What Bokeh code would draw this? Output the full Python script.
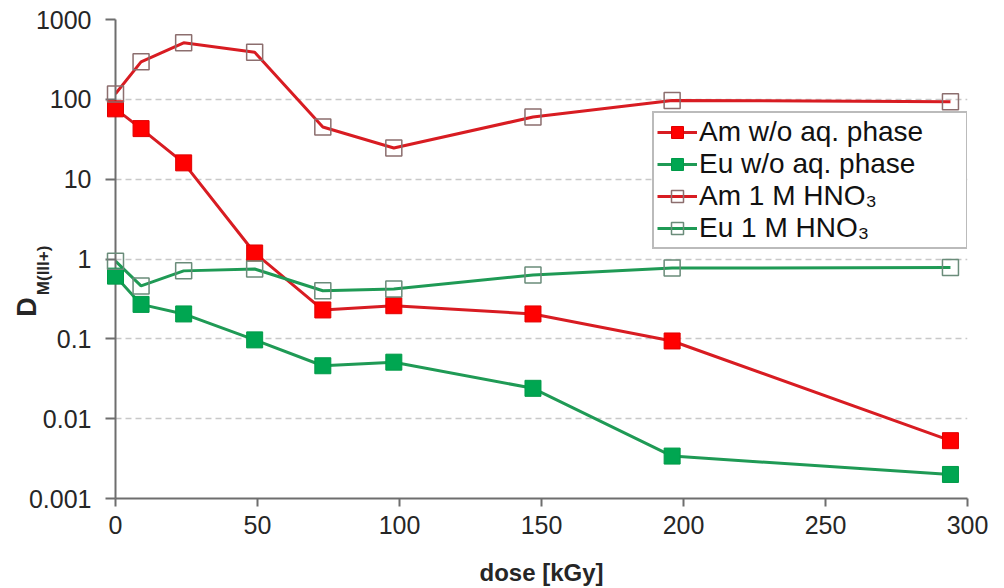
import math
from bokeh.plotting import figure
from bokeh.models import FixedTicker, Legend, LegendItem, Range1d
from bokeh.core.properties import value
from bokeh.embed import file_html
from bokeh.resources import INLINE

# ---- data ----
dose = [0, 9, 24, 49, 73, 98, 147, 196, 294]
am_wo = [76, 43, 16, 1.19, 0.23, 0.26, 0.205, 0.094, 0.0053]
eu_wo = [0.61, 0.27, 0.205, 0.097, 0.046, 0.051, 0.024, 0.0034, 0.0020]
am_hno3 = [117, 295, 510, 390, 45, 24.6, 60, 97, 93]
eu_hno3 = [0.94, 0.46, 0.71, 0.75, 0.40, 0.42, 0.63, 0.77, 0.78]

series_labels = ["Am w/o aq. phase", "Eu w/o aq. phase", "Am 1 M HNO\u2083", "Eu 1 M HNO\u2083"]
y_ticks = [0.001, 0.01, 0.1, 1, 10, 100, 1000]
y_tick_labels = ["0.001", "0.01", "0.1", "1", "10", "100", "1000"]
x_ticks = [0, 50, 100, 150, 200, 250, 300]
y_title_main = "D"
y_title_sub = "M(III+)"

FONT = "Liberation Sans"
TXT = "#262626"

p = figure(width=1004, height=588, y_axis_type="log",
           x_range=Range1d(0, 300), y_range=Range1d(0.001, 1000),
           output_backend="svg", toolbar_location=None,
           min_border_left=115, min_border_right=37,
           min_border_top=19, min_border_bottom=90)
p.outline_line_color = None
p.background_fill_color = "white"
p.border_fill_color = "white"

# axes
p.xaxis.ticker = FixedTicker(ticks=x_ticks)
p.yaxis.ticker = FixedTicker(ticks=y_ticks, minor_ticks=[])
p.yaxis.major_label_overrides = {t: l for t, l in zip(y_ticks, y_tick_labels)}
for ax in (p.xaxis, p.yaxis):
    ax.axis_line_color = "#6e6e6e"
    ax.axis_line_width = 2
    ax.major_tick_line_color = "#6e6e6e"
    ax.major_tick_line_width = 2
    ax.major_tick_in = 0
    ax.minor_tick_line_color = None
    ax.major_label_text_font = FONT
    ax.major_label_text_font_size = "25px"
    ax.major_label_text_color = TXT
p.xaxis.major_tick_out = 8
p.yaxis.major_tick_out = 10
p.xaxis.major_label_standoff = 9
p.yaxis.major_label_standoff = 14
p.xaxis.axis_label = "dose [kGy]"
p.xaxis.axis_label_text_font = FONT
p.xaxis.axis_label_text_font_size = "24px"
p.xaxis.axis_label_text_font_style = "bold"
p.xaxis.axis_label_text_color = TXT
p.xaxis.axis_label_standoff = 22

p.xgrid.grid_line_color = None
p.ygrid.grid_line_color = "#c8c8c8"
p.ygrid.grid_line_dash = "6 4"
p.ygrid.grid_line_width = 1.5

RED_LINE = "#d81c22"
GREEN_LINE = "#1f9a55"

r1l = p.line(dose, am_wo, line_color=RED_LINE, line_width=3)
r2l = p.line(dose, eu_wo, line_color=GREEN_LINE, line_width=3)
r3l = p.line(dose, am_hno3, line_color=RED_LINE, line_width=3)
r4l = p.line(dose, eu_hno3, line_color=GREEN_LINE, line_width=3)

r1m = p.scatter(dose, am_wo, marker="square", size=16, fill_color="#ff0000",
                line_color="#e00000", line_width=1, level="overlay")
r2m = p.scatter(dose, eu_wo, marker="square", size=16, fill_color="#00a651",
                line_color="#009a48", line_width=1, level="overlay")
r3m = p.scatter(dose, am_hno3, marker="square", size=16, fill_color=None,
                line_color="#8c6e6e", line_width=1.5, level="overlay")
r4m = p.scatter(dose, eu_hno3, marker="square", size=16, fill_color=None,
                line_color="#6a8c7a", line_width=1.5, level="overlay")

legend = Legend(items=[
    LegendItem(label=series_labels[0], renderers=[r1l, r1m]),
    LegendItem(label=series_labels[1], renderers=[r2l, r2m]),
    LegendItem(label=series_labels[2], renderers=[r3l, r3m]),
    LegendItem(label=series_labels[3], renderers=[r4l, r4m]),
], location=(537, 249))
legend.border_line_color = "#777777"
legend.border_line_width = 2
legend.background_fill_color = "white"
legend.background_fill_alpha = 1
legend.label_text_font = FONT
legend.label_text_font_size = "28px"
legend.label_text_color = "#111111"
legend.glyph_width = 40
legend.glyph_height = 30
legend.label_height = 30
legend.label_width = 264
legend.label_standoff = 2
legend.spacing = 0
legend.padding = 3
legend.margin = 0
p.add_layout(legend)

# y axis title D_M(III+) drawn as text glyphs left of the frame (not clipped at overlay level)
p.text(x=[-31.0], y=[0.25], text=[y_title_main], angle=math.pi / 2,
       text_align="center", text_baseline="middle",
       text_font=value(FONT), text_font_size="27px", text_font_style="bold",
       text_color=TXT, level="overlay")
p.text(x=[-25.2], y=[0.72], text=[y_title_sub], angle=math.pi / 2,
       text_align="center", text_baseline="middle",
       text_font=value(FONT), text_font_size="17px", text_font_style="bold",
       text_color=TXT, level="overlay")

open("out.html", "w").write(file_html(p, INLINE))
